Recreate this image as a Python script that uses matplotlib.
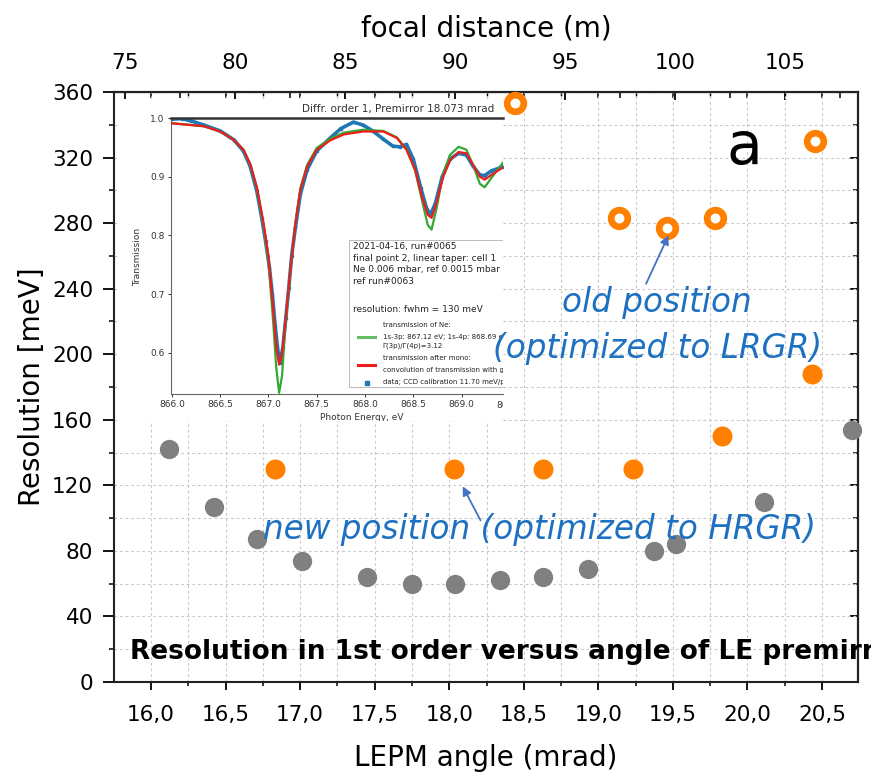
import matplotlib
matplotlib.use("Agg")
import matplotlib.pyplot as plt
import matplotlib.transforms as mtransforms
from matplotlib.patches import Rectangle
from matplotlib.ticker import MultipleLocator

plt.rcParams['font.family'] = ['DejaVu Sans']

# resolution in 1st order vs LE premirror angle
measured_angle = [16.12, 16.42, 16.71, 17.01, 17.45, 17.75, 18.04, 18.34, 18.63, 18.93, 19.37, 19.52, 20.11, 20.70]
measured_res = [142, 107, 87, 74, 64, 60, 60, 62, 64, 69, 80, 84, 110, 154]
new_angle = [16.83, 18.03, 18.63, 19.23, 19.83, 20.43]
new_res = [130, 130, 130, 130, 150, 188]
old_angle = [18.44, 19.14, 19.46, 19.78, 20.45]
old_res = [353, 283, 277, 283, 330]

angle_ticks = [16.0, 16.5, 17.0, 17.5, 18.0, 18.5, 19.0, 19.5, 20.0, 20.5]
angle_labels = ['16,0', '16,5', '17,0', '17,5', '18,0', '18,5', '19,0', '19,5', '20,0', '20,5']
res_ticks = [0, 40, 80, 120, 160, 200, 240, 280, 320, 360]
focal_ticks = [75, 80, 85, 90, 95, 100, 105]

# inset: Ne transmission scan around 867 eV
energy_ticks = [866.0, 866.5, 867.0, 867.5, 868.0, 868.5, 869.0]
energy_labels = ['866.0', '866.5', '867.0', '867.5', '868.0', '868.5', '869.0']
trans_ticks = [0.6, 0.7, 0.8, 0.9, 1.0]
trans_labels = ['0.6', '0.7', '0.8', '0.9', '1.0']

green_e = [866.0, 866.33, 866.5, 866.64, 866.74, 866.81, 866.88, 866.95, 867.0, 867.05, 867.08, 867.11,
           867.14, 867.17, 867.22, 867.28, 867.33, 867.4, 867.5, 867.64, 867.78, 867.98, 868.19, 868.33,
           868.43, 868.52, 868.59, 868.65, 868.69, 868.74, 868.81, 868.88, 868.97, 869.05, 869.12, 869.19,
           869.24, 869.31, 869.43]
green_t = [0.991, 0.986, 0.977, 0.963, 0.946, 0.921, 0.88, 0.815, 0.755, 0.65, 0.576, 0.532,
           0.56, 0.636, 0.73, 0.822, 0.88, 0.92, 0.949, 0.965, 0.975, 0.98, 0.978, 0.967,
           0.947, 0.91, 0.86, 0.818, 0.81, 0.845, 0.905, 0.937, 0.951, 0.946, 0.92, 0.888,
           0.882, 0.898, 0.924]
red_e = [866.0, 866.33, 866.5, 866.64, 866.74, 866.81, 866.88, 866.95, 867.0, 867.04, 867.08, 867.11,
         867.14, 867.18, 867.22, 867.28, 867.33, 867.4, 867.5, 867.64, 867.78, 867.98, 868.19, 868.33,
         868.43, 868.52, 868.59, 868.65, 868.69, 868.74, 868.81, 868.88, 868.97, 869.05, 869.12, 869.19,
         869.24, 869.31, 869.43]
red_t = [0.991, 0.986, 0.977, 0.963, 0.946, 0.922, 0.882, 0.82, 0.764, 0.69, 0.612, 0.58,
         0.596, 0.66, 0.73, 0.821, 0.878, 0.917, 0.946, 0.962, 0.972, 0.977, 0.977, 0.966,
         0.946, 0.912, 0.866, 0.835, 0.83, 0.855, 0.9, 0.928, 0.942, 0.94, 0.92, 0.9,
         0.895, 0.903, 0.916]
blue_e = [866.0, 866.1, 866.2, 866.33, 866.5, 866.64, 866.74, 866.81, 866.88, 866.93, 866.97, 867.01,
          867.04, 867.07, 867.1, 867.12, 867.15, 867.18, 867.21, 867.24, 867.28, 867.33, 867.4, 867.5,
          867.64, 867.75, 867.88, 867.98, 868.08, 868.19, 868.29, 868.36, 868.43, 868.5, 868.58, 868.64,
          868.68, 868.73, 868.8, 868.88, 868.97, 869.05, 869.12, 869.19, 869.24, 869.31, 869.43]
blue_t = [0.998, 0.999, 0.995, 0.988, 0.978, 0.963, 0.944, 0.918, 0.875, 0.83, 0.79, 0.745,
          0.7, 0.645, 0.6, 0.583, 0.61, 0.66, 0.71, 0.765, 0.815, 0.87, 0.912, 0.944,
          0.966, 0.982, 0.993, 0.988, 0.978, 0.964, 0.952, 0.951, 0.955, 0.93, 0.88, 0.845,
          0.836, 0.855, 0.9, 0.93, 0.94, 0.937, 0.918, 0.903, 0.902, 0.91, 0.917]

GRAY = '#808080'
ORANGE = '#ff8000'
TEXT_BLUE = '#1e70c0'
ARROW_BLUE = '#4472c4'

# conversion between premirror angle and focal distance for the top axis
FOCAL_AT_16 = 76.18
FOCAL_PER_MRAD = 6.777


def to_focal(a):
    return FOCAL_AT_16 + FOCAL_PER_MRAD * (a - 16.0)


def to_angle(f):
    return 16.0 + (f - FOCAL_AT_16) / FOCAL_PER_MRAD


W, H = 871, 778


def px_box(left, top, right, bottom):
    return [left / W, 1 - bottom / H, (right - left) / W, (bottom - top) / H]


fig = plt.figure(figsize=(W / 100, H / 100), dpi=100)
ax = fig.add_axes(px_box(114, 92, 858, 682))

ax.set_xlim(15.752, 20.741)
ax.set_ylim(0, 360)
ax.set_xticks(angle_ticks)
ax.set_xticklabels(angle_labels)
ax.xaxis.set_minor_locator(MultipleLocator(0.25))
ax.set_yticks(res_ticks)
ax.yaxis.set_minor_locator(MultipleLocator(20))
ax.tick_params(axis='x', which='major', direction='out', length=5.5, width=1.3, labelsize=15.5, pad=11)
ax.tick_params(axis='x', which='minor', direction='out', length=3, width=1.1)
ax.tick_params(axis='y', which='major', direction='out', length=8, width=1.3, labelsize=15.5, pad=7)
ax.tick_params(axis='y', which='minor', direction='out', length=3.6, width=1.1)
ax.grid(which='both', color='#c9c9c9', lw=0.8, ls=(0, (2.5, 2.5)))
ax.set_axisbelow(True)
for s in ax.spines.values():
    s.set_linewidth(1.5)
    s.set_color('#222222')

ax.set_xlabel('LEPM angle (mrad)', fontsize=20, labelpad=14)
ax.set_ylabel('Resolution [meV]', fontsize=20, labelpad=4)

# focal distance on top
sec = ax.secondary_xaxis('top', functions=(to_focal, to_angle))
sec.set_xticks(focal_ticks)
sec.xaxis.set_minor_locator(MultipleLocator(2.5))
sec.tick_params(which='major', direction='in', length=6, width=1.3, labelsize=15.5, pad=13.5)
sec.tick_params(which='minor', direction='in', length=4, width=1.1)
sec.set_xlabel('focal distance (m)', fontsize=20, labelpad=12)
sec.spines['top'].set_linewidth(1.5)

# mirrored angle ticks on top and resolution ticks on the right
top2 = ax.secondary_xaxis('top')
top2.set_xticks(angle_ticks)
top2.xaxis.set_minor_locator(MultipleLocator(0.25))
top2.tick_params(which='major', direction='in', length=4, width=1.1, labeltop=False)
top2.tick_params(which='minor', direction='in', length=3, width=1.0)
right = ax.secondary_yaxis('right')
right.set_yticks(res_ticks)
right.yaxis.set_minor_locator(MultipleLocator(20))
right.tick_params(which='major', direction='in', length=6, width=1.3, labelright=False)
right.tick_params(which='minor', direction='in', length=3.5, width=1.1)
right.spines['right'].set_linewidth(1.5)

ax.plot(measured_angle, measured_res, ls='none', marker='o', ms=13.9, mfc=GRAY, mec='none',
        zorder=3, clip_on=False)
ax.plot(new_angle, new_res, ls='none', marker='o', ms=14.4, mfc=ORANGE, mec='none', zorder=3, clip_on=False)
ax.plot(old_angle, old_res, ls='none', marker='o', ms=12, mfc='white', mec=ORANGE, mew=4.8,
        zorder=3, clip_on=False)

ax.text(19.977, 316.3, 'a', fontsize=42, ha='center', va='baseline')

arrow = dict(arrowstyle='-|>', color=ARROW_BLUE, lw=1.3, mutation_scale=13, shrinkA=0, shrinkB=0)
ax.annotate('', xy=(19.47, 272.5), xytext=(19.32, 243), arrowprops=arrow)
ax.annotate('', xy=(18.09, 119.4), xytext=(18.21, 98.6), arrowprops=arrow)

ax.text(15.859, 14, 'Resolution in 1st order versus angle of LE premirror', fontsize=19,
        fontweight='bold', ha='left', va='baseline', clip_on=False)

# inset panel with the transmission scan
panel = fig.add_axes(px_box(118, 99, 503, 421))
panel.set_xlim(0, 1)
panel.set_ylim(0, 1)
panel.set_xticks([])
panel.set_yticks([])
for s in panel.spines.values():
    s.set_visible(False)
panel.set_facecolor('white')


def panel_xy(px, py):
    return (px - 118) / 385, (421 - py) / 322


panel.text(*panel_xy(302, 109), 'Diffr. order 1, Premirror 18.073 mrad', fontsize=7.5,
           ha='left', va='center', color='#333333', clip_on=True)
panel.text(*panel_xy(138, 257), 'Transmission', fontsize=6.5, rotation=90,
           ha='center', va='center', color='#333333', clip_on=True)
panel.text(*panel_xy(362, 418), 'Photon Energy, eV', fontsize=6.5,
           ha='center', va='center', color='#333333', clip_on=True)

ins = fig.add_axes(px_box(171, 118, 503, 394))
ins.plot(blue_e, blue_t, color='#1f77b4', lw=2.6, marker='s', ms=1.6, zorder=2)
ins.plot(green_e, green_t, color='#33a833', lw=1.6, zorder=3)
ins.plot(red_e, red_t, color='#ee1c1c', lw=1.6, zorder=4)

ins.set_xticks(energy_ticks)
ins.set_xticklabels(energy_labels)
ins.set_yticks(trans_ticks)
ins.set_yticklabels(trans_labels)
ins.tick_params(labelsize=6.5, length=2.5, width=0.7, pad=2, colors='#333333')
ins.spines['right'].set_visible(False)
ins.spines['top'].set_linewidth(1.8)
ins.spines['top'].set_color('#333333')
for side in ('left', 'bottom'):
    ins.spines[side].set_linewidth(0.8)
    ins.spines[side].set_color('#666666')

# last energy label, cut by the panel edge
cut = ins.text(869.5, -0.04, '869.5', fontsize=6.5, color='#333333', ha='center', va='center',
               transform=mtransforms.blended_transform_factory(ins.transData, ins.transAxes),
               clip_on=True)
cut.set_clip_path(panel.patch)


def ins_xy(px, py):
    return (px - 171) / 332, (394 - py) / 276


box_x, box_y = ins_xy(349, 387)
ins.add_patch(Rectangle((box_x, box_y), 0.6, (387 - 240) / 276, transform=ins.transAxes,
                        fc='white', ec='#bbbbbb', lw=0.7, zorder=6))

info = ['2021-04-16, run#0065', 'final point 2, linear taper: cell 1', 'Ne 0.006 mbar, ref 0.0015 mbar',
        'ref run#0063']
for k, line in enumerate(info):
    ins.text(*ins_xy(352.7, 246.7 + 11.45 * k), line, fontsize=6.5, color='#222222',
             ha='left', va='center', transform=ins.transAxes, zorder=7, clip_on=True)
ins.text(*ins_xy(352.7, 310), 'resolution: fwhm = 130 meV', fontsize=6.5, color='#222222',
         ha='left', va='center', transform=ins.transAxes, zorder=7, clip_on=True)

entries = [
    ('#66bb66', 336.7, [(325, 'transmission of Ne:'), (336.7, '1s-3p: 867.12 eV; 1s-4p: 868.69 eV'),
                        (346, 'Γ(3p)/Γ(4p)=3.12')]),
    ('#ee1c1c', 365, [(358.3, 'transmission after mono:'), (370, 'convolution of transmission with gauss')]),
]
for color, hy, lines in entries:
    x0, y0 = ins_xy(358, hy)
    x1, _ = ins_xy(375, hy)
    ins.plot([x0, x1], [y0, y0], color=color, lw=2.2, transform=ins.transAxes, zorder=7, clip_on=True)
    for ty, txt in lines:
        ins.text(*ins_xy(382.7, ty), txt, fontsize=5, color='#222222', ha='left', va='center',
                 transform=ins.transAxes, zorder=7, clip_on=True)
dx, dy = ins_xy(367.3, 382.7)
ins.plot([dx], [dy], ls='none', marker='s', ms=2.2, color='#1f77b4', transform=ins.transAxes, zorder=7)
ins.text(*ins_xy(382.7, 381.7), 'data; CCD calibration 11.70 meV/px', fontsize=5, color='#222222',
         ha='left', va='center', transform=ins.transAxes, zorder=7, clip_on=True)

ins.set_xlim(865.99, 869.43)
ins.set_ylim(0.53, 1.0)

# blue annotations sit on top of everything, including the inset edge
blue_font = dict(family='DejaVu Sans', style='oblique', fontsize=23.5, color=TEXT_BLUE,
                 va='baseline', transform=ax.transData)
fig.text(19.39, 225.8, 'old position', ha='center', **blue_font)
fig.text(19.40, 197.9, '(optimized to LRGR)', ha='center', **blue_font)
fig.text(16.75, 87.5, 'new position (optimized to HRGR)', ha='left', **blue_font)

fig.savefig('out.png', dpi=100)
